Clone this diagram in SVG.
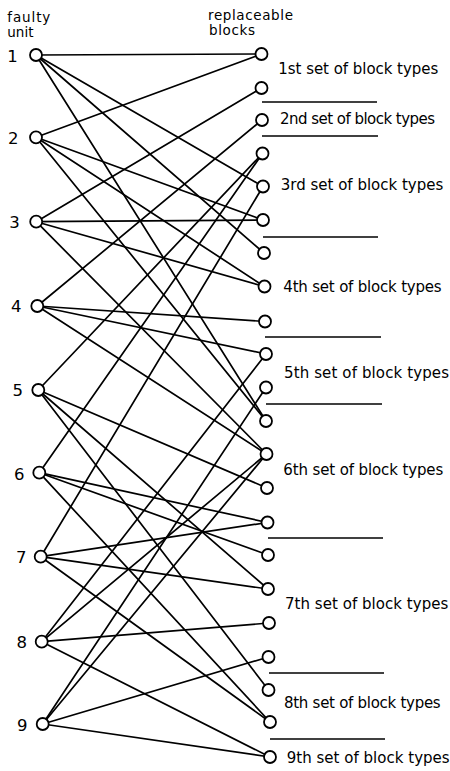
<svg xmlns="http://www.w3.org/2000/svg" width="450" height="771" viewBox="0 0 450 771">
  <style>
    .edge { stroke: #000; stroke-width: 1.7; fill: none; stroke-linecap: round; }
    .sep { stroke: #000; stroke-width: 1.5; }
    .node { fill: #fff; stroke: #000; stroke-width: 1.8; }
    .hdr { font-family: "DejaVu Sans", "Liberation Sans", sans-serif; font-size: 13.5px; fill: #000; }
    .num { font-family: "DejaVu Sans", "Liberation Sans", sans-serif; font-size: 16.5px; fill: #000; text-anchor: middle; }
    .set { font-family: "DejaVu Sans", "Liberation Sans", sans-serif; font-size: 15px; fill: #000; }
  </style>
  <rect width="450" height="771" fill="#fff"/>

  <!-- column headings -->
  <g id="headings">
    <text class="hdr" x="7.3" y="22" textLength="43" lengthAdjust="spacing">faulty</text>
    <text class="hdr" x="7.3" y="36.5">unit</text>
    <text class="hdr" x="208" y="19.5" textLength="85" lengthAdjust="spacing">replaceable</text>
    <text class="hdr" x="209" y="35" textLength="46" lengthAdjust="spacing">blocks</text>
  </g>

  <!-- connectors: faulty unit -> replaceable block -->
  <g id="connectors">
    <!-- unit 1 -->
    <line class="edge" x1="36" y1="55" x2="261.5" y2="54"/>
    <line class="edge" x1="36" y1="55" x2="263" y2="186.5"/>
    <line class="edge" x1="36" y1="55" x2="264" y2="253"/>
    <line class="edge" x1="36" y1="55" x2="266" y2="421"/>
    <!-- unit 2 -->
    <line class="edge" x1="36" y1="137.3" x2="261.5" y2="54"/>
    <line class="edge" x1="36" y1="137.3" x2="263" y2="220"/>
    <line class="edge" x1="36" y1="137.3" x2="264.5" y2="286.5"/>
    <line class="edge" x1="36" y1="137.3" x2="266" y2="421"/>
    <!-- unit 3 -->
    <line class="edge" x1="36.2" y1="221.7" x2="261.5" y2="88"/>
    <line class="edge" x1="36.2" y1="221.7" x2="263" y2="220"/>
    <line class="edge" x1="36.2" y1="221.7" x2="264.5" y2="286.5"/>
    <line class="edge" x1="36.2" y1="221.7" x2="266.5" y2="454"/>
    <!-- unit 4 -->
    <line class="edge" x1="37.3" y1="306" x2="262" y2="120"/>
    <line class="edge" x1="37.3" y1="306" x2="265" y2="321.5"/>
    <line class="edge" x1="37.3" y1="306" x2="266" y2="354"/>
    <line class="edge" x1="37.3" y1="306" x2="266.5" y2="454"/>
    <!-- unit 5 -->
    <line class="edge" x1="38.3" y1="390" x2="262.5" y2="153.5"/>
    <line class="edge" x1="38.3" y1="390" x2="267" y2="488"/>
    <line class="edge" x1="38.3" y1="390" x2="268" y2="589"/>
    <line class="edge" x1="38.3" y1="390" x2="268.5" y2="690"/>
    <!-- unit 6 -->
    <line class="edge" x1="39.3" y1="472.7" x2="262.5" y2="153.5"/>
    <line class="edge" x1="39.3" y1="472.7" x2="267.5" y2="522.5"/>
    <line class="edge" x1="39.3" y1="472.7" x2="268" y2="555"/>
    <line class="edge" x1="39.3" y1="472.7" x2="270" y2="722"/>
    <!-- unit 7 -->
    <line class="edge" x1="40.7" y1="556.7" x2="263" y2="186.5"/>
    <line class="edge" x1="40.7" y1="556.7" x2="267.5" y2="522.5"/>
    <line class="edge" x1="40.7" y1="556.7" x2="268" y2="589"/>
    <line class="edge" x1="40.7" y1="556.7" x2="270" y2="722"/>
    <!-- unit 8 -->
    <line class="edge" x1="41.7" y1="641.7" x2="266" y2="354"/>
    <line class="edge" x1="41.7" y1="641.7" x2="266.5" y2="454"/>
    <line class="edge" x1="41.7" y1="641.7" x2="269" y2="623"/>
    <line class="edge" x1="41.7" y1="641.7" x2="270" y2="757"/>
    <!-- unit 9 -->
    <line class="edge" x1="42.7" y1="724" x2="266" y2="387.5"/>
    <line class="edge" x1="42.7" y1="724" x2="266.5" y2="454"/>
    <line class="edge" x1="42.7" y1="724" x2="268.5" y2="657"/>
    <line class="edge" x1="42.7" y1="724" x2="270" y2="757"/>
  </g>

  <!-- faulty units -->
  <g id="unit-1"><circle class="node" cx="36" cy="55" r="6"/><text class="num" x="12.5" y="61.5">1</text></g>
  <g id="unit-2"><circle class="node" cx="36" cy="137.3" r="6"/><text class="num" x="13.3" y="143.8">2</text></g>
  <g id="unit-3"><circle class="node" cx="36.2" cy="221.7" r="6"/><text class="num" x="14.5" y="228.2">3</text></g>
  <g id="unit-4"><circle class="node" cx="37.3" cy="306" r="6"/><text class="num" x="16.2" y="311.6">4</text></g>
  <g id="unit-5"><circle class="node" cx="38.3" cy="390" r="6"/><text class="num" x="17.8" y="395.9">5</text></g>
  <g id="unit-6"><circle class="node" cx="39.3" cy="472.7" r="6"/><text class="num" x="19.2" y="479.8">6</text></g>
  <g id="unit-7"><circle class="node" cx="40.7" cy="556.7" r="6"/><text class="num" x="21.2" y="562.5">7</text></g>
  <g id="unit-8"><circle class="node" cx="41.7" cy="641.7" r="6"/><text class="num" x="21.7" y="648">8</text></g>
  <g id="unit-9"><circle class="node" cx="42.7" cy="724" r="6"/><text class="num" x="22.2" y="730.5">9</text></g>

  <!-- replaceable blocks -->
  <g id="block-1"><circle class="node" cx="261.5" cy="54" r="6"/></g>
  <g id="block-2"><circle class="node" cx="261.5" cy="88" r="6"/></g>
  <g id="block-3"><circle class="node" cx="262" cy="120" r="6"/></g>
  <g id="block-4"><circle class="node" cx="262.5" cy="153.5" r="6"/></g>
  <g id="block-5"><circle class="node" cx="263" cy="186.5" r="6"/></g>
  <g id="block-6"><circle class="node" cx="263" cy="220" r="6"/></g>
  <g id="block-7"><circle class="node" cx="264" cy="253" r="6"/></g>
  <g id="block-8"><circle class="node" cx="264.5" cy="286.5" r="6"/></g>
  <g id="block-9"><circle class="node" cx="265" cy="321.5" r="6"/></g>
  <g id="block-10"><circle class="node" cx="266" cy="354" r="6"/></g>
  <g id="block-11"><circle class="node" cx="266" cy="387.5" r="6"/></g>
  <g id="block-12"><circle class="node" cx="266" cy="421" r="6"/></g>
  <g id="block-13"><circle class="node" cx="266.5" cy="454" r="6"/></g>
  <g id="block-14"><circle class="node" cx="267" cy="488" r="6"/></g>
  <g id="block-15"><circle class="node" cx="267.5" cy="522.5" r="6"/></g>
  <g id="block-16"><circle class="node" cx="268" cy="555" r="6"/></g>
  <g id="block-17"><circle class="node" cx="268" cy="589" r="6"/></g>
  <g id="block-18"><circle class="node" cx="269" cy="623" r="6"/></g>
  <g id="block-19"><circle class="node" cx="268.5" cy="657" r="6"/></g>
  <g id="block-20"><circle class="node" cx="268.5" cy="690" r="6"/></g>
  <g id="block-21"><circle class="node" cx="270" cy="722" r="6"/></g>
  <g id="block-22"><circle class="node" cx="270" cy="757" r="6"/></g>

  <!-- block-type set labels and dividers -->
  <g id="sets">
    <text class="set" x="278.3" y="74" textLength="160" lengthAdjust="spacing">1st set of block types</text>
    <line class="sep" x1="262" y1="102" x2="377" y2="102"/>
    <text class="set" x="280" y="124" textLength="155" lengthAdjust="spacing">2nd set of block types</text>
    <line class="sep" x1="262" y1="136" x2="378" y2="136"/>
    <text class="set" x="280.7" y="190" textLength="162.6" lengthAdjust="spacing">3rd set of block types</text>
    <line class="sep" x1="263" y1="237" x2="378" y2="237"/>
    <text class="set" x="283.3" y="292" textLength="158.4" lengthAdjust="spacing">4th set of block types</text>
    <line class="sep" x1="265" y1="337" x2="381" y2="337"/>
    <text class="set" x="284" y="378" textLength="165" lengthAdjust="spacing">5th set of block types</text>
    <line class="sep" x1="266" y1="404" x2="382" y2="404"/>
    <text class="set" x="283.3" y="475" textLength="160" lengthAdjust="spacing">6th set of block types</text>
    <line class="sep" x1="268" y1="538" x2="383" y2="538"/>
    <text class="set" x="285" y="609" textLength="163.3" lengthAdjust="spacing">7th set of block types</text>
    <line class="sep" x1="269" y1="673" x2="384" y2="673"/>
    <text class="set" x="284" y="708" textLength="156.7" lengthAdjust="spacing">8th set of block types</text>
    <line class="sep" x1="270" y1="739" x2="385" y2="739"/>
    <text class="set" x="286.7" y="763" textLength="163" lengthAdjust="spacing">9th set of block types</text>
  </g>
</svg>
